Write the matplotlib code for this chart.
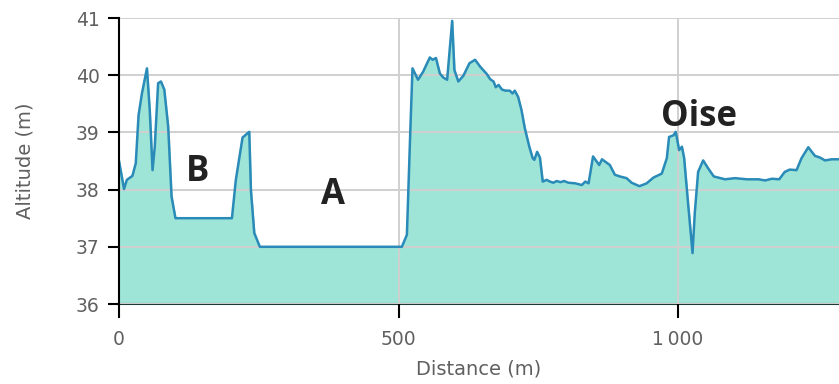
import matplotlib
matplotlib.use("Agg")
from matplotlib import pyplot as plt

# elevation profile
distance = [0, 9, 14, 24, 30, 35, 41, 50, 55, 60, 64, 70, 75, 81, 88, 94, 101,
            202, 209, 221, 233, 236, 242, 252,
            506, 515, 521, 525, 535, 544, 556, 561, 567, 574, 580, 587, 596, 600,
            607, 616, 627, 637, 646, 658, 664, 670, 674, 679, 685, 691, 699, 704,
            708, 714, 720, 726, 734, 740, 743, 748, 753, 758, 765, 771, 777, 783,
            790, 796, 804, 816, 828, 834, 840, 848, 859, 864, 878, 887, 896, 908,
            917, 931, 944, 956, 971, 980, 984, 992, 996, 1002, 1007, 1011, 1018,
            1026, 1030, 1036, 1045, 1054, 1064, 1084, 1102, 1123, 1144, 1156,
            1168, 1181, 1191, 1200, 1212, 1221, 1233, 1245, 1254, 1263, 1275,
            1288, 1300]
altitude = [38.50, 38.01, 38.17, 38.24, 38.46, 39.30, 39.68, 40.12, 39.39, 38.34,
            38.75, 39.86, 39.89, 39.75, 39.10, 37.88, 37.50,
            37.50, 38.17, 38.91, 39.01, 37.99, 37.24, 37.00,
            37.00, 37.21, 38.99, 40.12, 39.92, 40.06, 40.31, 40.27, 40.30, 40.03,
            39.96, 39.92, 40.95, 40.09, 39.89, 39.99, 40.21, 40.27, 40.15, 40.02,
            39.93, 39.89, 39.79, 39.83, 39.75, 39.73, 39.73, 39.68, 39.73, 39.62,
            39.39, 39.07, 38.75, 38.55, 38.52, 38.66, 38.56, 38.14, 38.17, 38.14,
            38.12, 38.15, 38.13, 38.15, 38.12, 38.11, 38.08, 38.14, 38.11, 38.58,
            38.43, 38.53, 38.43, 38.26, 38.23, 38.20, 38.12, 38.06, 38.11, 38.21,
            38.28, 38.55, 38.92, 38.95, 39.01, 38.69, 38.75, 38.55, 37.76, 36.89,
            37.59, 38.31, 38.51, 38.37, 38.23, 38.18, 38.20, 38.18, 38.18, 38.16,
            38.19, 38.18, 38.31, 38.35, 38.34, 38.55, 38.74, 38.59, 38.56, 38.51,
            38.53, 38.53, 38.53]

labels = ["B", "A", "Oise"]
label_x = [141, 383, 1038]
label_y = [38.31, 37.91, 39.27]

x_ticks = [0, 500, 1000]
x_tick_labels = ["0", "500", "1\u2009000"]
y_ticks = [36, 37, 38, 39, 40, 41]

fig = plt.figure(figsize=(8.39, 3.84), dpi=100)
ax = fig.add_axes([119 / 839, 1 - 304 / 384, 1 - 119 / 839, (304 - 18) / 384])

ax.fill_between(distance, 36, altitude, color="#9ee5d7", zorder=2)
ax.plot(distance, altitude, color="#2a8ab8", lw=1.8, zorder=3)

for t, x, y in zip(labels, label_x, label_y):
    ax.text(x, y, t, fontsize=25, fontweight="bold", color="#222222",
            ha="center", va="center", family=["Open Sans", "DejaVu Sans"], zorder=4)

ax.set_xlim(0, 1288)
ax.set_ylim(36, 41)
ax.set_xticks(x_ticks)
ax.set_xticklabels(x_tick_labels)
ax.set_yticks(y_ticks)
ax.grid(True, color="#d0d0d0", lw=1.4, zorder=1)
ax.set_axisbelow(False)

for s in ["top", "right"]:
    ax.spines[s].set_visible(False)
ax.spines["left"].set_linewidth(1.5)
ax.spines["bottom"].set_linewidth(1.5)
ax.spines["bottom"].set_color("#1d3b36")
ax.spines["left"].set_zorder(5)

ax.tick_params(axis="y", length=8, width=1.5, pad=6, labelsize=13.5, labelcolor="#606060")
ax.tick_params(axis="x", length=10, width=1.5, pad=9, labelsize=13.5, labelcolor="#606060")

ax.set_xlabel("Distance (m)", fontsize=14, color="#606060", labelpad=7)
ax.set_ylabel("Altitude (m)", fontsize=14, color="#606060", labelpad=30)

fig.savefig("out.png", dpi=100)
